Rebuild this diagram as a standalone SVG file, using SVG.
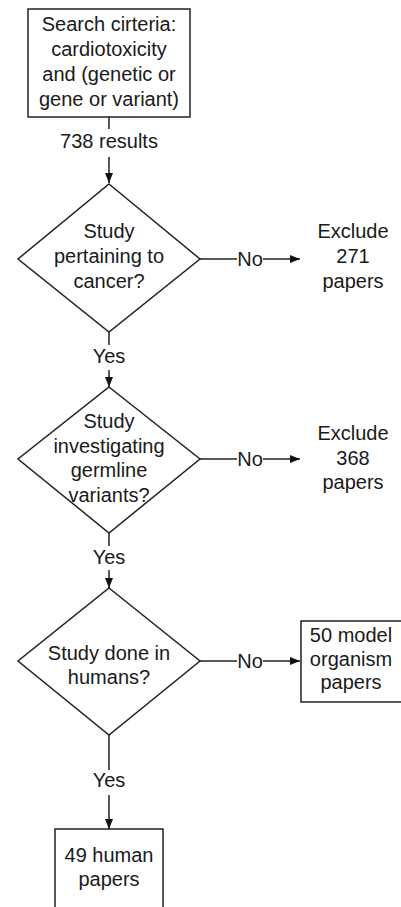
<svg xmlns="http://www.w3.org/2000/svg" width="401" height="907" viewBox="0 0 401 907">
<style>
.s{fill:#fff;stroke:#222;stroke-width:1.5}
.t{font-family:"Liberation Sans",Arial,sans-serif;font-size:20px;fill:#1a1a1a;text-anchor:middle}
.c{fill:none;stroke:#222;stroke-width:1.5}
</style>
<defs>
<marker id="ah" markerWidth="10" markerHeight="8" refX="10" refY="4" orient="auto" markerUnits="userSpaceOnUse">
<path d="M0,0 L10,4 L0,8 Z" fill="#111"/>
</marker>
</defs>
<g id="connectors">
<path class="c" d="M109,117 V129"/>
<path class="c" d="M109,157 V183" marker-end="url(#ah)"/>
<path class="c" d="M200,259 H237"/>
<path class="c" d="M263,259 H300" marker-end="url(#ah)"/>
<path class="c" d="M109,332 V345"/>
<path class="c" d="M109,370 V387" marker-end="url(#ah)"/>
<path class="c" d="M200,459 H237"/>
<path class="c" d="M263,459 H300" marker-end="url(#ah)"/>
<path class="c" d="M109,533 V546"/>
<path class="c" d="M109,570 V588" marker-end="url(#ah)"/>
<path class="c" d="M200,661 H237"/>
<path class="c" d="M263,661 H300" marker-end="url(#ah)"/>
<path class="c" d="M109,735 V770"/>
<path class="c" d="M109,795 V829" marker-end="url(#ah)"/>
<text class="t" x="109" y="148">738 results</text>
<text class="t" x="250" y="266">No</text>
<text class="t" x="109" y="363">Yes</text>
<text class="t" x="250" y="466">No</text>
<text class="t" x="109" y="564">Yes</text>
<text class="t" x="250" y="668">No</text>
<text class="t" x="109" y="787">Yes</text>
</g>
<g id="search">
<rect class="s" x="28" y="9" width="162" height="108"/>
<text class="t" x="109" y="31">Search cirteria:</text>
<text class="t" x="109" y="56">cardiotoxicity</text>
<text class="t" x="109" y="81">and (genetic or</text>
<text class="t" x="109" y="106">gene or variant)</text>
</g>
<g id="d1">
<polygon class="s" points="109,184 200,259 109,332 18,259"/>
<text class="t" x="109" y="238">Study</text>
<text class="t" x="109" y="263">pertaining to</text>
<text class="t" x="109" y="288">cancer?</text>
</g>
<g id="ex1">
<text class="t" x="353" y="238">Exclude</text>
<text class="t" x="353" y="263">271</text>
<text class="t" x="353" y="288">papers</text>
</g>
<g id="d2">
<polygon class="s" points="109,387 200,459 109,533 18,459"/>
<text class="t" x="109" y="428">Study</text>
<text class="t" x="109" y="453">investigating</text>
<text class="t" x="109" y="477">germline</text>
<text class="t" x="109" y="502">variants?</text>
</g>
<g id="ex2">
<text class="t" x="353" y="440">Exclude</text>
<text class="t" x="353" y="465">368</text>
<text class="t" x="353" y="489">papers</text>
</g>
<g id="d3">
<polygon class="s" points="109,588 200,661 109,735 18,661"/>
<text class="t" x="109" y="660">Study done in</text>
<text class="t" x="109" y="684">humans?</text>
</g>
<g id="model">
<rect class="s" x="301" y="621" width="110" height="81"/>
<text class="t" x="351" y="642">50 model</text>
<text class="t" x="351" y="666">organism</text>
<text class="t" x="351" y="689">papers</text>
</g>
<g id="human">
<rect class="s" x="55" y="829" width="108" height="90"/>
<text class="t" x="109" y="862">49 human</text>
<text class="t" x="109" y="886">papers</text>
</g>
</svg>
